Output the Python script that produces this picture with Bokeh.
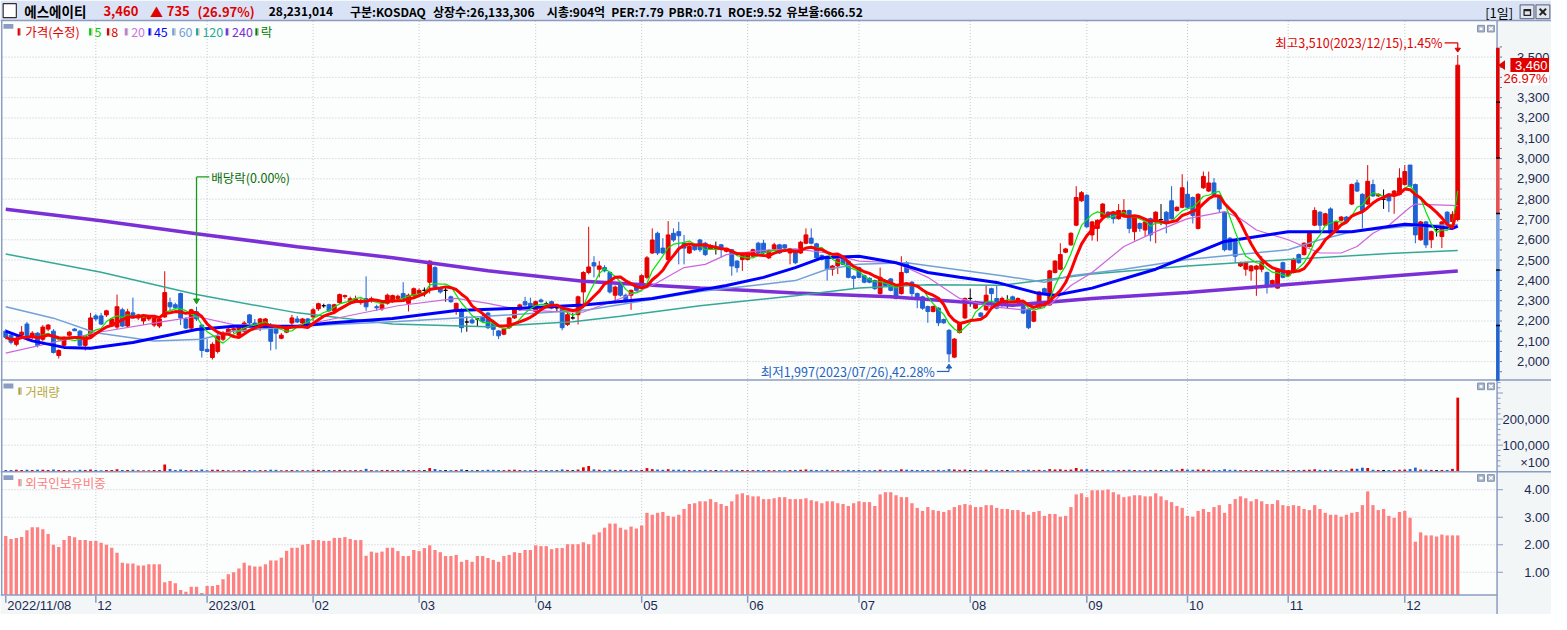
import numpy as np
import pandas as pd
from bokeh.plotting import figure
from bokeh.models import Range1d
from bokeh.core.properties import value
from bokeh.embed import file_html
from bokeh.resources import INLINE

# ---------------------------------------------------------------- data
OPEN = [
2150,2130,2085,2130,2185,2120,2140,2110,2160,2150,
2030,2080,2130,2160,2150,2080,2125,2225,2225,2230,
2175,2170,2255,2175,2240,2215,2200,2210,2180,2175,
2220,2290,2280,2335,2210,2165,2245,2180,2060,2020,
2050,2110,2140,2155,2130,2150,2230,2190,2165,2165,
2180,2170,2115,2145,2190,2210,2190,2210,2220,2260,
2275,2280,2250,2290,2320,2300,2295,2290,2310,2300,
2270,2260,2287,2295,2311,2335,2287,2327,2335,2351,
2391,2463,2359,2351,2319,2247,2255,2195,2205,2210,
2223,2239,2191,2151,2135,2167,2215,2255,2295,2287,
2247,2303,2285,2295,2265,2271,2183,2215,2231,2343,
2439,2487,2455,2463,2439,2327,2383,2327,2327,2375,
2375,2415,2535,2632,2559,2503,2632,2640,2583,2535,
2575,2599,2583,2555,2560,2575,2543,2551,2495,2503,
2503,2519,2583,2583,2511,2555,2575,2575,2535,2551,
2535,2583,2608,2580,2523,2519,2455,2471,2511,2495,
2420,2463,2423,2410,2399,2335,2399,2407,2367,2335,
2487,2391,2335,2319,2271,2247,2263,2207,2154,2022,
2143,2215,2311,2263,2239,2255,2359,2311,2279,2295,
2319,2295,2271,2255,2199,2263,2359,2279,2439,2455,
2539,2575,2672,2792,2819,2624,2656,2712,2736,2728,
2704,2720,2744,2640,2680,2648,2704,2688,2700,2736,
2792,2744,2760,2824,2808,2656,2856,2840,2880,2808,
2736,2608,2592,2471,2455,2447,2455,2455,2439,2383,
2362,2487,2423,2439,2527,2527,2567,2672,2736,2672,
2752,2648,2696,2712,2776,2880,2824,2776,2872,2816,
2800,2824,2824,2824,2872,2968,2872,2600,2688,2600,
2650,2616,2736,2690,2700]
HIGH = [
2160,2140,2125,2175,2195,2150,2145,2180,2185,2160,
2060,2125,2150,2165,2155,2130,2240,2235,2240,2255,
2215,2330,2265,2260,2315,2235,2230,2225,2225,2220,
2445,2315,2290,2340,2220,2260,2270,2185,2110,2095,
2140,2150,2165,2170,2180,2200,2235,2210,2215,2215,
2190,2180,2140,2175,2230,2225,2215,2215,2265,2290,
2285,2285,2285,2335,2330,2320,2325,2310,2420,2320,
2280,2290,2335,2330,2330,2391,2335,2365,2360,2365,
2500,2470,2365,2367,2325,2290,2263,2223,2215,2215,
2230,2245,2195,2155,2165,2220,2268,2285,2319,2315,
2300,2311,2295,2300,2275,2275,2240,2239,2325,2445,
2664,2519,2495,2475,2445,2375,2390,2335,2355,2380,
2430,2520,2656,2640,2608,2692,2656,2688,2624,2575,
2580,2605,2590,2578,2591,2580,2560,2555,2500,2540,
2540,2556,2590,2600,2552,2585,2580,2578,2560,2556,
2595,2656,2656,2585,2528,2522,2475,2508,2515,2500,
2425,2468,2428,2415,2404,2463,2404,2412,2372,2519,
2495,2396,2340,2324,2276,2276,2268,2212,2160,2116,
2196,2316,2359,2300,2244,2375,2364,2375,2320,2327,
2325,2316,2276,2260,2252,2348,2364,2452,2500,2583,
2560,2637,2864,2840,2825,2693,2701,2781,2741,2733,
2776,2800,2749,2717,2685,2693,2709,2741,2776,2741,
2864,2765,2923,2888,2813,2829,2936,2936,2904,2813,
2741,2613,2597,2492,2492,2476,2476,2519,2444,2404,
2460,2492,2452,2511,2532,2588,2637,2760,2741,2733,
2760,2693,2717,2717,2877,2896,2829,2968,2896,2829,
2848,2829,2845,2952,2968,2968,2877,2693,2693,2645,
2672,2693,2741,2741,3510]
LOW = [
2110,2085,2075,2120,2115,2110,2070,2100,2150,2040,
2015,2075,2125,2150,2075,2055,2120,2200,2180,2220,
2170,2160,2170,2170,2210,2205,2180,2200,2170,2165,
2215,2250,2260,2180,2160,2160,2200,2020,2045,2010,
2040,2100,2130,2140,2120,2145,2180,2175,2150,2160,
2055,2060,2110,2140,2180,2190,2185,2180,2200,2250,
2265,2245,2245,2285,2310,2280,2290,2280,2250,2290,
2250,2250,2280,2290,2305,2305,2247,2320,2325,2320,
2335,2355,2335,2295,2290,2231,2143,2147,2185,2175,
2195,2160,2127,2111,2130,2160,2210,2250,2275,2258,
2240,2290,2271,2258,2247,2154,2175,2207,2183,2263,
2430,2415,2415,2440,2335,2287,2320,2290,2255,2345,
2370,2405,2530,2525,2530,2495,2590,2479,2479,2530,
2545,2540,2520,2550,2527,2511,2538,2423,2439,2447,
2498,2515,2530,2530,2505,2550,2530,2552,2479,2480,
2530,2578,2578,2505,2498,2399,2423,2431,2474,2410,
2359,2410,2386,2386,2354,2330,2370,2346,2306,2330,
2434,2319,2263,2255,2191,2242,2175,2186,1997,2017,
2138,2210,2271,2258,2218,2250,2263,2258,2270,2263,
2298,2290,2234,2160,2194,2258,2330,2274,2434,2450,
2534,2570,2667,2787,2659,2596,2592,2707,2707,2680,
2699,2715,2632,2596,2640,2616,2592,2583,2672,2632,
2699,2739,2755,2755,2680,2651,2851,2835,2819,2736,
2543,2546,2487,2466,2423,2399,2324,2440,2335,2378,
2359,2410,2418,2434,2482,2522,2562,2667,2648,2667,
2627,2643,2691,2683,2771,2835,2656,2771,2811,2811,
2752,2736,2728,2819,2867,2859,2583,2595,2559,2559,
2616,2559,2664,2656,2690]
CLOSE = [
2120,2095,2115,2145,2125,2140,2080,2170,2180,2045,
2055,2120,2145,2152,2080,2125,2215,2210,2185,2250,
2210,2270,2175,2245,2215,2230,2220,2220,2215,2210,
2340,2270,2265,2215,2165,2255,2210,2055,2050,2085,
2125,2140,2160,2162,2175,2190,2190,2180,2210,2210,
2100,2140,2130,2170,2215,2195,2210,2185,2255,2285,
2275,2250,2280,2330,2325,2310,2310,2300,2270,2310,
2265,2280,2327,2325,2322,2311,2327,2359,2351,2351,
2495,2367,2343,2351,2295,2287,2167,2195,2191,2210,
2199,2167,2159,2127,2159,2215,2263,2279,2279,2263,
2295,2295,2285,2263,2265,2167,2231,2215,2319,2439,
2466,2471,2471,2447,2343,2367,2327,2295,2351,2351,
2423,2511,2599,2535,2535,2624,2599,2620,2559,2567,
2551,2551,2527,2571,2560,2559,2555,2471,2463,2532,
2535,2551,2535,2535,2548,2575,2535,2559,2555,2487,
2588,2624,2583,2511,2503,2455,2471,2503,2479,2415,
2410,2415,2391,2391,2359,2415,2375,2351,2311,2439,
2439,2335,2311,2263,2247,2271,2191,2191,2038,2111,
2191,2311,2311,2295,2223,2327,2335,2263,2311,2295,
2303,2311,2239,2167,2247,2343,2335,2447,2495,2527,
2555,2632,2808,2832,2664,2688,2696,2776,2712,2704,
2744,2744,2656,2712,2656,2688,2624,2736,2700,2688,
2704,2760,2856,2760,2720,2824,2912,2880,2824,2752,
2551,2551,2519,2487,2487,2471,2471,2487,2375,2399,
2455,2415,2447,2503,2487,2583,2632,2744,2672,2728,
2632,2688,2712,2688,2872,2840,2744,2888,2816,2824,
2800,2792,2840,2904,2936,2864,2624,2688,2575,2640,
2650,2688,2680,2725,3460]
# volume, in units of 100 shares
VOLUME = [
5200,4800,5600,4300,6100,4700,5300,5900,4500,6200,
5100,4600,4200,3900,5400,4800,6800,4400,4100,5000,
4300,7200,5200,4700,5600,3800,4200,3600,4400,4900,
26000,8600,4500,6300,4800,5100,4400,6600,4200,5300,
5600,4300,3700,3500,4000,4600,4900,3900,4300,4100,
5800,5200,3600,4000,4800,4100,3900,3800,5500,5000,
3400,4700,4200,5100,4200,3900,4400,4100,9200,4300,
3800,4500,5000,4600,4300,5200,4800,4400,4200,3900,
12000,8500,4600,4300,4200,4800,6900,4800,4100,3900,
4400,5600,5300,4800,4200,5400,5800,4600,4100,4300,
4900,3800,3600,4300,3500,6800,5200,3900,6400,15000,
20000,7200,5800,4600,6200,5000,5400,4700,5200,4300,
5100,12000,8000,6400,5500,7800,5600,6000,5200,4400,
4200,4600,5400,4000,4100,3900,3700,5800,4900,4600,
4300,4200,4700,4500,4400,4100,4300,3800,4600,4900,
5600,6800,5400,4800,4100,5600,4200,4400,4300,5200,
4300,4700,4400,4000,4500,5900,4100,4300,4600,7400,
5800,5200,4800,4900,4700,4000,5300,4200,7800,6600,
5400,6300,4800,4200,4000,5800,4600,4900,4400,4100,
3900,4200,4600,5700,4300,5500,4200,8200,6600,7400,
5200,6400,12500,6800,7600,5200,4800,5300,4400,4200,
4600,5100,5600,4700,4100,4400,5000,5200,4300,4500,
6800,4400,9200,6200,5600,6400,6800,5200,4900,4600,
7600,5400,5600,4400,4600,4200,4700,4300,5300,4300,
4900,4800,4400,4700,4600,5300,5800,7400,5500,4800,
5900,4700,4300,4200,9800,9400,13500,12500,5600,4800,
4900,4800,4600,5800,6400,8400,13800,6400,5900,5200,
4200,4900,4800,9000,282310]
# foreign ownership ratio (%)
FOREIGN = [
2.32,2.21,2.25,2.28,2.53,2.64,2.64,2.56,2.39,2.00,
1.92,2.17,2.32,2.27,2.17,2.17,2.14,2.14,2.07,2.00,
1.89,1.71,1.35,1.32,1.32,1.25,1.25,1.29,1.29,1.29,
0.64,0.68,0.60,0.36,0.29,0.47,0.47,0.25,0.50,0.50,
0.54,0.75,0.93,1.00,1.14,1.35,1.25,1.21,1.21,1.29,
1.43,1.43,1.53,1.78,1.89,1.89,2.00,2.03,2.17,2.17,
2.14,2.14,2.25,2.25,2.28,2.21,2.17,2.17,1.60,1.75,
1.71,1.75,1.89,1.89,
1.77,1.59,1.59,1.81,1.77,1.88,1.98,1.81,1.73,1.59,
1.59,1.63,1.38,1.45,1.38,1.59,1.59,1.52,1.45,1.38,
1.59,1.63,1.73,1.70,1.81,1.81,1.98,1.95,1.95,1.84,
1.88,1.88,2.02,2.02,2.02,2.09,2.02,2.37,2.45,2.62,
2.77,2.77,2.62,2.55,2.66,2.59,2.70,3.16,3.09,3.16,
3.19,3.05,3.02,3.09,3.30,3.48,3.51,3.58,3.58,3.66,
3.55,3.48,3.41,3.58,3.83,3.87,3.80,3.76,3.76,3.66,
3.66,3.69,3.73,3.73,3.66,3.66,3.66,3.69,3.62,3.58,
3.51,3.58,3.58,3.51,3.48,3.41,3.51,3.58,3.55,3.55,
3.41,3.83,3.91,3.91,3.80,3.73,3.73,3.51,3.34,3.23,
3.37,3.26,3.23,
3.19,3.26,3.37,3.44,3.48,3.44,3.37,3.37,3.44,3.44,
3.34,3.30,3.30,3.26,3.26,3.19,3.09,3.19,3.23,3.05,
3.12,3.12,3.02,3.05,3.37,3.83,3.87,3.73,3.98,3.98,
3.98,4.01,3.91,3.83,3.73,3.76,3.80,3.80,3.76,3.76,
3.87,3.76,3.62,3.55,3.41,3.34,3.05,3.02,3.23,3.30,
3.19,3.37,3.44,3.16,3.48,3.66,3.76,3.69,3.58,3.66,
3.58,3.48,3.48,3.62,3.44,3.41,3.44,3.41,3.30,3.26,
3.44,3.30,3.16,3.09,3.09,3.02,3.09,3.16,3.19,3.44,
3.94,3.44,3.26,3.30,3.05,2.98,3.19,3.23,2.98,2.11,
2.45,2.34,2.34,2.30,2.37,2.34,2.34,2.34]

# moving averages (trading-day index, price)
MA20_IDX = [0,17,30,36,43,55,61,74,85,91,97,103,109,116,122,128,132,136,143,149,155,161,168,174,180,186,192,197,201,205,211,217,223,230,233,236,242,245,248,252,255,258,261,265,266,274]
MA20_VAL = [2042,2142,2198,2222,2182,2174,2206,2275,2311,2287,2255,2247,2244,2311,2375,2463,2479,2527,2548,2555,2535,2495,2487,2415,2311,2271,2255,2279,2375,2439,2567,2640,2704,2739,2704,2648,2600,2567,2535,2535,2567,2632,2672,2760,2776,2768]
MA45_IDX = [0,5,11,16,24,30,36,43,55,61,73,85,97,109,122,132,136,143,149,154,161,168,174,180,187,195,198,205,217,230,242,254,264,268,273,274]
MA45_VAL = [2150,2102,2070,2066,2094,2126,2158,2174,2174,2190,2212,2252,2263,2279,2311,2357,2375,2415,2463,2511,2519,2487,2439,2415,2390,2335,2327,2362,2455,2592,2640,2640,2676,2670,2656,2667]
MA60_IDX = [0,9,17,28,37,43,55,74,90,110,131,149,155,161,170,188,196,201,211,223,242,248,254,264,274]
MA60_VAL = [2270,2214,2142,2102,2110,2150,2174,2198,2222,2255,2345,2399,2455,2479,2487,2423,2391,2423,2455,2503,2551,2600,2640,2665,2675]
MA120_IDX = [0,18,36,55,73,91,107,116,131,149,161,174,188,205,223,242,261,274]
MA120_VAL = [2530,2440,2330,2240,2185,2172,2196,2223,2275,2324,2362,2378,2376,2431,2471,2503,2532,2547]
MA240_IDX = [0,18,36,55,73,91,109,131,149,167,180,190,205,223,242,261,274]
MA240_VAL = [2750,2694,2630,2566,2512,2447,2396,2362,2338,2319,2295,2278,2311,2340,2380,2420,2446]

DATE_TICK_IDX = [0, 17, 38, 58, 78, 100, 120, 140, 161, 182, 204, 223, 242, 264]
DATE_TICK_LABELS = ["2022/11/08", "12", "2023/01", "02", "03", "04", "05", "06",
                    "07", "08", "09", "10", "11", "12"]
PRICE_TICKS = [2000, 2100, 2200, 2300, 2400, 2500, 2600, 2700, 2800, 2900,
               3000, 3100, 3200, 3300, 3400, 3500]
VOL_TICKS = [100000, 200000]
VOL_TICK_LABELS = ["100,000", "200,000"]
FR_TICKS = [1.0, 2.0, 3.0, 4.0]
FR_TICK_LABELS = ["1.00", "2.00", "3.00", "4.00"]
STRIP_EDGES = [3546, 3277, 3003, 2730, 2451, 2178, 1905]
STRIP_COLORS = ["#e00000", "#e00000", "#ea4e4e", "#7ba4e0", "#4a83dc", "#2064d2"]

HEADER_TEXT = ["에스에이티", "3,460", "▲", "735", "(26.97%)", "28,231,014", "구분:KOSDAQ",
               "상장수:26,133,306", "시총:904억", "PER:7.79", "PBR:0.71", "ROE:9.52", "유보율:666.52"]
LEGEND_TEXT = ["가격(수정)", "5", "8", "20", "45", "60", "120", "240", "락"]
DIV_IDX = 36
DIV_LABEL = "배당락(0.00%)"
HIGH_LABEL = "최고3,510(2023/12/15),1.45%"
LOW_LABEL = "최저1,997(2023/07/26),42.28%"
LOW_IDX = 178

# ---------------------------------------------------------------- checks
N = len(CLOSE)
lens = [len(a) for a in (OPEN, HIGH, LOW, CLOSE, VOLUME, FOREIGN)]
assert all(n == N for n in lens), lens

idx = np.arange(N)
o = np.array(OPEN, float)
c = np.array(CLOSE, float)
h = np.array(HIGH, float)
l = np.array(LOW, float)
ma5 = pd.Series(c).rolling(5, min_periods=1).mean().values
ma8 = pd.Series(c).rolling(8, min_periods=1).mean().values

UP, DOWN, FLAT = "#e60000", "#1f62d4", "#000000"
col = np.where(c > o, UP, np.where(c < o, DOWN, FLAT)).tolist()

# ---------------------------------------------------------------- layout
W, H = 1551, 614
RW, RH = 1567.0, 630.0          # design grid (reference pixels)
X_FIRST, X_STEP = 5.3, 5.354
def ix(xref):
    return (xref - X_FIRST) / X_STEP
PLOT_R = 1512.0
Y_P2000, PPW = 370.5, 0.2083     # px per won
def price_at(yref):
    return 2000 + (Y_P2000 - yref) / PPW
V_ZERO, PPV = 483.0, 26.75 / 100000
F_ZERO, PPF = 614.9, 28.23
FR_BOTTOM = (F_ZERO - 610.0) / PPF

p = figure(width=W, height=H, output_backend="svg", toolbar_location=None,
           x_axis_type=None, y_axis_type=None, min_border=0,
           x_range=Range1d(ix(0), ix(RW)),
           y_range=Range1d(price_at(RH), price_at(0)))
p.title.visible = False
p.outline_line_color = None
p.background_fill_color = "#fcfdfd"
p.border_fill_color = "#fcfdfd"
p.extra_x_ranges = {"px": Range1d(0, RW)}
p.extra_y_ranges = {"py": Range1d(RH, 0),
                    "vol": Range1d(-(RH - V_ZERO) / PPV, V_ZERO / PPV),
                    "fr": Range1d(-(RH - F_ZERO) / PPF, F_ZERO / PPF)}
PXY = dict(x_range_name="px", y_range_name="py")
KR = value("Noto Sans CJK KR")
NUM = value("Liberation Sans")
AX_BG = "#f3f6f7"
BORDER = "#8b9cc0"
LABEL_C = "#1b2a52"
AX_FS = "13px"

# backgrounds
p.quad(left=[PLOT_R, 0, 0], right=[RW, RW, RW], top=[20.5, 610, 0], bottom=[610, RH, 20.5],
       fill_color=[AX_BG, AX_BG, "#dae3f6"], line_color=None, **PXY)

# grid
GRID = dict(line_color="#c3c7cc", line_width=1, line_dash="1 2")
xl, xr = ix(2), ix(PLOT_R)
p.segment(x0=[xl] * len(PRICE_TICKS), x1=[xr] * len(PRICE_TICKS), y0=PRICE_TICKS, y1=PRICE_TICKS, **GRID)
p.segment(x0=[xl] * 2, x1=[xr] * 2, y0=VOL_TICKS, y1=VOL_TICKS, y_range_name="vol", **GRID)
p.segment(x0=[xl] * 4, x1=[xr] * 4, y0=FR_TICKS, y1=FR_TICKS, y_range_name="fr", **GRID)
mi = DATE_TICK_IDX[1:]
p.segment(x0=mi, x1=mi, y0=[21] * len(mi), y1=[610] * len(mi), y_range_name="py", **GRID)

# foreign ownership bars
p.vbar(x=idx, width=0.62, top=FOREIGN, bottom=FR_BOTTOM, fill_color="#ff8080",
       line_color=None, y_range_name="fr")
# volume bars
p.vbar(x=idx, width=0.52, top=VOLUME, bottom=0, fill_color=col, line_color=None, y_range_name="vol")

# candles
p.segment(x0=idx, x1=idx, y0=l, y1=h, line_color=col, line_width=1)
p.vbar(x=idx, width=0.72, top=np.maximum(o, c), bottom=np.minimum(o, c),
       fill_color=col, line_color=col, line_width=1)

# moving averages
p.line(MA240_IDX, MA240_VAL, line_color="#7b2fd6", line_width=3.5)
p.line(MA120_IDX, MA120_VAL, line_color="#35a896", line_width=1.5)
p.line(MA60_IDX, MA60_VAL, line_color="#74a0d8", line_width=1.5)
p.line(MA20_IDX, MA20_VAL, line_color="#cc66dd", line_width=1.2)
p.line(MA45_IDX, MA45_VAL, line_color="#0000ff", line_width=3)
p.line(idx, ma5, line_color="#00e600", line_width=1.2)
p.line(idx, ma8, line_color="#ff0000", line_width=3)

# borders
p.segment(x0=[0, 0, 0, 0], x1=[RW, RW, RW, PLOT_R], y0=[20.5, 389.5, 483.5, 610],
          y1=[20.5, 389.5, 483.5, 610], line_color=BORDER, line_width=1.5, **PXY)
p.segment(x0=[PLOT_R, 1.2], x1=[PLOT_R, 1.2], y0=[20.5, 20.5], y1=[RH, 610],
          line_color=BORDER, line_width=1.5, **PXY)

# price-axis colour strip
p.quad(left=1511, right=1514.6, top=STRIP_EDGES[:-1], bottom=STRIP_EDGES[1:],
       fill_color=STRIP_COLORS, line_color=None, x_range_name="px")
p.segment(x0=[1511] * 5, x1=[1515] * 5, y0=STRIP_EDGES[1:-1], y1=STRIP_EDGES[1:-1],
          line_color="#000000", line_width=1.5, x_range_name="px")

# axis ticks
pt = list(range(1950, 3551, 50))
p.segment(x0=[1514.6] * len(pt), x1=[1517] * len(pt), y0=pt, y1=pt, line_color="#6b7a9a",
          line_width=1, x_range_name="px")
vt = list(range(20000, 340001, 20000))
vlen = [1518 if v % 100000 == 0 else 1515.5 for v in vt]
p.segment(x0=[PLOT_R] * len(vt), x1=vlen, y0=vt, y1=vt, line_color=BORDER, line_width=1,
          x_range_name="px", y_range_name="vol")
p.segment(x0=[PLOT_R] * 4, x1=[1518] * 4, y0=FR_TICKS, y1=FR_TICKS, line_color=BORDER,
          line_width=1, x_range_name="px", y_range_name="fr")

# axis labels
p.text(x=[1565] * len(PRICE_TICKS), y=PRICE_TICKS, text=[f"{v:,}" for v in PRICE_TICKS],
       text_align="right", text_baseline="middle", text_font=NUM, text_font_size=AX_FS,
       text_color=LABEL_C, x_range_name="px")
p.text(x=[1565] * 2, y=VOL_TICKS, text=VOL_TICK_LABELS, text_align="right", text_baseline="middle",
       text_font=NUM, text_font_size=AX_FS, text_color=LABEL_C, x_range_name="px", y_range_name="vol")
p.text(x=[1565], y=[474], text=["×100"], text_align="right", text_baseline="middle",
       text_font=NUM, text_font_size=AX_FS, text_color=LABEL_C, **PXY)
p.text(x=[1565] * 4, y=FR_TICKS, text=FR_TICK_LABELS, text_align="right", text_baseline="middle",
       text_font=NUM, text_font_size=AX_FS, text_color=LABEL_C, x_range_name="px", y_range_name="fr")

# date axis
p.segment(x0=DATE_TICK_IDX, x1=DATE_TICK_IDX, y0=[611] * len(DATE_TICK_IDX), y1=[618] * len(DATE_TICK_IDX),
          line_color=BORDER, line_width=1.5, y_range_name="py")
p.text(x=DATE_TICK_IDX, y=[621] * len(DATE_TICK_IDX), text=DATE_TICK_LABELS, x_offset=1.5,
       text_align="left", text_baseline="middle", text_font=NUM, text_font_size=AX_FS,
       text_color=LABEL_C, y_range_name="py")

# header
p.quad(left=[2.7], right=[16], top=[3.3], bottom=[17.5], fill_color="#ffffff", line_color="#303030",
       line_width=1.2, **PXY)
hx = [24, 104, 151, 168, 199, 271, 353, 437, 552, 617, 675, 735, 794]
hc = ["#000000"] + ["#e00000"] * 4 + ["#000000"] * 8
hs = ["13.5px"] + ["13px"] * 4 + ["12px"] * 8
p.text(x=hx, y=[10.8] * len(hx), text=HEADER_TEXT, text_color=hc, text_font=KR,
       text_font_size=hs, text_font_style="bold", text_baseline="middle", **PXY)
p.text(x=[1500], y=[12], text=["[1일]"], text_font=KR, text_font_size="13px",
       text_baseline="middle", text_color="#000000", **PXY)
p.quad(left=[1535.3, 1551.3], right=[1549.3, 1565.3], top=[4.5, 4.5], bottom=[18.5, 18.5],
       fill_color="#e2e6ee", line_color="#6e7890", line_width=1.3, **PXY)
p.quad(left=[1539.3], right=[1545.8], top=[9.3], bottom=[15.3], fill_color=None,
       line_color="#222222", line_width=1.3, **PXY)
p.segment(x0=[1539.3], x1=[1545.8], y0=[9.8], y1=[9.8], line_color="#222222", line_width=2.2, **PXY)
p.segment(x0=[1555, 1555], x1=[1561.5, 1561.5], y0=[8.5, 15], y1=[15, 8.5],
          line_color="#222222", line_width=2, **PXY)

# panel icons and titles
p.quad(left=[3, 3, 3], right=[13, 13, 13], top=[24, 393, 487], bottom=[29, 398, 492],
       fill_color="#8a9cc0", line_color=None, **PXY)
LEG_COLORS = ["#e00000", "#00d000", "#e00000", "#cc77dd", "#0000ff", "#6f9fd8", "#2aa898", "#7b2fd6", "#008000"]
mx = np.array([17.3, 89.5, 107.5, 125.5, 149.5, 173.5, 197.5, 227.5, 257.5])
tx = [25, 95, 112, 132, 155, 180, 204, 234, 263]
p.quad(left=mx, right=mx + 2.3, top=[28.5] * 9, bottom=[36] * 9, fill_color=LEG_COLORS, line_color=None, **PXY)
p.quad(left=mx + 2.3, right=mx + 3.5, top=[28.5] * 9, bottom=[36] * 9, fill_color="#bdbdbd", line_color=None, **PXY)
p.text(x=tx, y=[32] * 9, text=LEGEND_TEXT, text_color=LEG_COLORS, text_font=KR, text_font_size="12.5px",
       text_baseline="middle", **PXY)
p.quad(left=[18, 18], right=[20.3, 20.3], top=[397, 491], bottom=[404.5, 498.5],
       fill_color=["#b5a22e", "#ff8080"], line_color=None, **PXY)
p.quad(left=[20.3, 20.3], right=[21.5, 21.5], top=[397, 491], bottom=[404.5, 498.5],
       fill_color="#bdbdbd", line_color=None, **PXY)
p.text(x=[25, 25], y=[401, 495], text=["거래량", "외국인보유비중"], text_color=["#b9a93a", "#ff7f7f"],
       text_font=KR, text_font_size="12.5px", text_baseline="middle", **PXY)

# small panel buttons
by = [25.5, 392.5, 486.5]
p.quad(left=[1492.3] * 3 + [1502.3] * 3, right=[1499.3] * 3 + [1509.3] * 3,
       top=by + by, bottom=[b + 6.8 for b in by] * 2, fill_color="#a9b5cc", line_color="#8492ad",
       line_width=1, **PXY)
p.quad(left=[1494.3] * 3, right=[1497.3] * 3, top=[b + 2.2 for b in by], bottom=[b + 4.8 for b in by],
       fill_color="#ffffff", line_color=None, **PXY)
p.segment(x0=[1504] * 3 + [1504] * 3, x1=[1507.6] * 3 + [1507.6] * 3,
          y0=[b + 1.7 for b in by] + [b + 5.1 for b in by],
          y1=[b + 5.1 for b in by] + [b + 1.7 for b in by],
          line_color="#ffffff", line_width=1.3, **PXY)

# dividend marker
DIV_G = "#1a9a1a"
tip = h[DIV_IDX] + 3 / PPW
top_y = price_at(181)
p.segment(x0=[DIV_IDX, DIV_IDX], x1=[DIV_IDX, ix(211)], y0=[tip + 5 / PPW, top_y], y1=[top_y, top_y],
          line_color=DIV_G, line_width=1.3)
p.patch(x=[DIV_IDX - 0.55, DIV_IDX + 0.55, DIV_IDX], y=[tip + 5 / PPW, tip + 5 / PPW, tip],
        fill_color=DIV_G, line_color=DIV_G)
p.text(x=[213], y=[181.3], text=[DIV_LABEL], text_color="#0b6e0b", text_font=KR, text_font_size="12.5px",
       text_baseline="middle", **PXY)

# high marker
last = N - 1
hi_tip = h[last] + 3 / PPW
hi_y = h[last] + 12.5 / PPW
p.text(x=[1457], y=[hi_y], text=[HIGH_LABEL], text_color="#e00000", text_font=KR, text_font_size="12.5px",
       text_align="right", text_baseline="middle", x_range_name="px")
p.segment(x0=[ix(1459), last], x1=[last, last], y0=[hi_y, hi_y], y1=[hi_y, hi_tip + 4 / PPW],
          line_color="#e00000", line_width=1.2)
p.patch(x=[last - 0.5, last + 0.5, last], y=[hi_tip + 4 / PPW, hi_tip + 4 / PPW, hi_tip],
        fill_color="#e00000", line_color="#e00000")

# low marker
lo_tip = l[LOW_IDX] - 2 / PPW
lo_y = l[LOW_IDX] - 9.5 / PPW
p.text(x=[944], y=[lo_y], text=[LOW_LABEL], text_color="#2262c0", text_font=KR, text_font_size="12.5px",
       text_align="right", text_baseline="middle", x_range_name="px")
p.segment(x0=[ix(946), LOW_IDX], x1=[LOW_IDX, LOW_IDX], y0=[lo_y, lo_y], y1=[lo_y, lo_tip - 4 / PPW],
          line_color="#2262c0", line_width=1.2)
p.patch(x=[LOW_IDX - 0.5, LOW_IDX + 0.5, LOW_IDX], y=[lo_tip - 4 / PPW, lo_tip - 4 / PPW, lo_tip],
        fill_color="#2262c0", line_color="#2262c0")

# current price tag
cl = c[last]
chg = (c[last] - c[last - 1]) / c[last - 1] * 100
p.quad(left=[1525.5], right=[1564.5], top=[cl + 7.5 / PPW], bottom=[cl - 7 / PPW],
       fill_color="#e00000", line_color=None, x_range_name="px")
p.patch(x=[1513, 1520, 1520], y=[cl, cl + 5 / PPW, cl - 5 / PPW], fill_color="#e00000",
        line_color=None, x_range_name="px")
p.text(x=[1563], y=[cl], text=[f"{int(cl):,}"], text_color="#ffffff", text_font=NUM,
       text_font_size=AX_FS, text_align="right", text_baseline="middle", x_range_name="px")
p.quad(left=[1525.5], right=[1564.5], top=[cl - 7.5 / PPW], bottom=[cl - 20.5 / PPW],
       fill_color="#ffffff", line_color=None, x_range_name="px")
p.text(x=[1563], y=[cl - 14 / PPW], text=[f"{chg:.2f}%"], text_color="#e00000", text_font=NUM,
       text_font_size=AX_FS, text_align="right", text_baseline="middle", x_range_name="px")

with open("out.html", "w", encoding="utf-8") as f:
    f.write(file_html(p, INLINE))
